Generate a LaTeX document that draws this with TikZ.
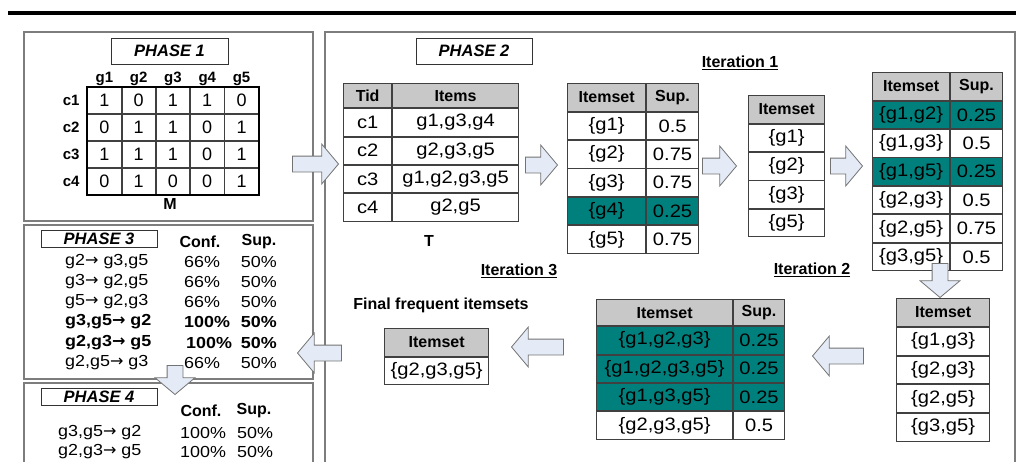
\documentclass[tikz,border=0pt]{standalone}
\usepackage{fontspec}
\setmainfont{Liberation Sans}
\newfontfamily\cellfont[FakeStretch=1.12]{Liberation Sans}
\newfontfamily\arrfont{DejaVu Sans}
\newcommand{\imp}{{\arrfont →}}
\usetikzlibrary{positioning,matrix,shapes.arrows}

\definecolor{hit}{RGB}{0,128,125}
\definecolor{hdr}{RGB}{200,200,200}
\definecolor{arrfill}{RGB}{228,234,246}
\definecolor{arrline}{RGB}{115,115,115}
\definecolor{panelgray}{RGB}{125,125,125}

\tikzset{
  panel/.style={draw=panelgray, line width=1.3pt},
  title/.style={draw=black!80, line width=0.8pt, inner sep=0pt, font=\fontsize{16.5}{18}\selectfont\bfseries\itshape},
  cell/.style={draw=black!75, line width=0.9pt, minimum height=27.5pt, inner sep=1pt, outer sep=0pt, anchor=center, font=\cellfont\fontsize{18}{20}\selectfont},
  hd/.style={fill=hdr, font=\fontsize{16}{18}\selectfont\bfseries},
  tbl/.style={matrix of nodes, inner sep=0pt, row sep=0pt, column sep=0pt, nodes={cell}, row 1/.style={nodes={hd}}},
  blk/.style={single arrow, draw=arrline, fill=arrfill, line width=0.8pt, inner sep=0pt, inner ysep=7.5pt, single arrow head extend=12pt, single arrow tip angle=100, anchor=tip},
  lbl/.style={inner sep=1pt, font=\fontsize{16}{18}\selectfont\bfseries},
  colhd/.style={inner sep=1pt, font=\fontsize{15}{17}\selectfont\bfseries},
  rule/.style={inner sep=0pt, font=\cellfont\fontsize{16}{18}\selectfont},
  brule/.style={inner sep=0pt, font=\cellfont\fontsize{16}{18}\selectfont\bfseries},
}

\begin{document}
\begin{tikzpicture}[x=1pt, y=-1pt]
\path[use as bounding box, fill=white] (0,0) rectangle (1016,461);
\clip (0,0) rectangle (1016,461);

\draw[line width=3.6pt] (8,13) -- (1016,13);

% panels
\draw[panel] (24,32) rectangle (313,221);
\draw[panel] (325,32) rectangle (1015,470);
\draw[panel] (24,225) rectangle (313,379);
\draw[panel] (24,383) rectangle (313,470);

% phase 1
\node[title, minimum width=117pt, minimum height=26pt] (h1) at (169.5,51) {PHASE 1};
\matrix[matrix of nodes, inner sep=0pt, anchor=north west,
  nodes={cell, minimum width=33.4pt, minimum height=26pt, font=\fontsize{18}{20}\selectfont}] (tM) at (87,87) {
1 & 0 & 1 & 1 & 0 \\
0 & 1 & 1 & 0 & 1 \\
1 & 1 & 1 & 0 & 1 \\
0 & 1 & 0 & 0 & 1 \\
};
\draw[line width=2pt] (tM.north west) rectangle (tM.south east);
\node[colhd, above=1pt of tM-1-1] (g1) {g1};
\node[colhd, above=1pt of tM-1-2] (g2) {g2};
\node[colhd, above=1pt of tM-1-3] (g3) {g3};
\node[colhd, above=1pt of tM-1-4] (g4) {g4};
\node[colhd, above=1pt of tM-1-5] (g5) {g5};
\node[colhd, left=7pt of tM-1-1] (c1) {c1};
\node[colhd, left=7pt of tM-2-1] (c2) {c2};
\node[colhd, left=7pt of tM-3-1] (c3) {c3};
\node[colhd, left=7pt of tM-4-1] (c4) {c4};
\node[lbl] (mlab) at (170,204) {M};

% phase 2
\node[title, minimum width=116pt, minimum height=26pt] (h2) at (474,51) {PHASE 2};
\matrix[tbl, anchor=north west, row 1/.style={nodes={hd, minimum height=24pt}},
  column 1/.style={nodes={minimum width=48pt}}, column 2/.style={nodes={minimum width=126pt}}] (tT) at (343,83) {
Tid & Items \\
c1 & g1,g3,g4 \\
c2 & g2,g3,g5 \\
c3 & g1,g2,g3,g5 \\
c4 & g2,g5 \\
};
\node[lbl] (tlab) at (429,241) {T};

\matrix[tbl, anchor=north west, row 5/.style={nodes={fill=hit}},
  column 1/.style={nodes={minimum width=78pt}}, column 2/.style={nodes={minimum width=52pt}}] (tC1) at (567,83) {
Itemset & Sup. \\
\{g1\} & 0.5 \\
\{g2\} & 0.75 \\
\{g3\} & 0.75 \\
\{g4\} & 0.25 \\
\{g5\} & 0.75 \\
};

\node[lbl] (it1) at (740,63) {\underline{Iteration 1}};
\matrix[tbl, anchor=north west, nodes={minimum width=76pt}] (tL1) at (748,95) {
Itemset \\
\{g1\} \\
\{g2\} \\
\{g3\} \\
\{g5\} \\
};

\matrix[tbl, anchor=north west, row 2/.style={nodes={fill=hit}}, row 4/.style={nodes={fill=hit}},
  column 1/.style={nodes={minimum width=77pt}}, column 2/.style={nodes={minimum width=52pt}}] (tC2) at (872,72) {
Itemset & Sup. \\
\{g1,g2\} & 0.25 \\
\{g1,g3\} & 0.5 \\
\{g1,g5\} & 0.25 \\
\{g2,g3\} & 0.5 \\
\{g2,g5\} & 0.75 \\
\{g3,g5\} & 0.5 \\
};

\node[lbl] (it2) at (812,270) {\underline{Iteration 2}};
\matrix[tbl, anchor=north west, nodes={minimum width=93pt, minimum height=27.75pt}] (tL2) at (896,298) {
Itemset \\
\{g1,g3\} \\
\{g2,g3\} \\
\{g2,g5\} \\
\{g3,g5\} \\
};

\matrix[tbl, anchor=north west, row 1/.style={nodes={hd, minimum height=26pt}},
  row 2/.style={nodes={fill=hit}}, row 3/.style={nodes={fill=hit}}, row 4/.style={nodes={fill=hit}},
  column 1/.style={nodes={minimum width=136pt}}, column 2/.style={nodes={minimum width=51pt}}] (tC3) at (596,299) {
Itemset & Sup. \\
\{g1,g2,g3\} & 0.25 \\
\{g1,g2,g3,g5\} & 0.25 \\
\{g1,g3,g5\} & 0.25 \\
\{g2,g3,g5\} & 0.5 \\
};

\node[lbl] (it3) at (519,271) {\underline{Iteration 3}};
\node[lbl] (fin) at (441,305) {Final frequent itemsets};
\matrix[tbl, anchor=north west, nodes={minimum width=104pt}] (tF) at (384,328) {
Itemset \\
\{g2,g3,g5\} \\
};

% phase 3
\node[title, minimum width=116pt, minimum height=17pt] (h3) at (99,238.5) {PHASE 3};
\node[lbl] (cf3) at (200,242) {Conf.};
\node[lbl] (sp3) at (259,242) {Sup.};
\node[rule, anchor=west] (r31) at (65,262) {g2\imp\ g3,g5};
\node[rule, anchor=west] (r32) at (65,282) {g3\imp\ g2,g5};
\node[rule, anchor=west] (r33) at (65,302) {g5\imp\ g2,g3};
\node[brule, anchor=west] (r34) at (65,322) {g3,g5\imp\ g2};
\node[brule, anchor=west] (r35) at (65,343) {g2,g3\imp\ g5};
\node[rule, anchor=west] (r36) at (65,363) {g2,g5\imp\ g3};
\node[rule, anchor=west] (c31) at (184,262) {66\%};
\node[rule, anchor=west] (c32) at (184,282) {66\%};
\node[rule, anchor=west] (c33) at (184,302) {66\%};
\node[brule, anchor=west] (c34) at (184,322) {100\%};
\node[brule, anchor=west] (c35) at (186,343) {100\%};
\node[rule, anchor=west] (c36) at (184,363) {66\%};
\node[rule, anchor=east] (s31) at (277,262) {50\%};
\node[rule, anchor=east] (s32) at (277,282) {50\%};
\node[rule, anchor=east] (s33) at (277,302) {50\%};
\node[brule, anchor=east] (s34) at (277,322) {50\%};
\node[brule, anchor=east] (s35) at (277,343) {50\%};
\node[rule, anchor=east] (s36) at (277,363) {50\%};

% phase 4
\node[title, minimum width=116pt, minimum height=17pt] (h4) at (99,396.5) {PHASE 4};
\node[lbl] (cf4) at (201,411) {Conf.};
\node[lbl] (sp4) at (254,411) {Sup.};
\node[rule, anchor=west] (r41) at (58,433) {g3,g5\imp\ g2};
\node[rule, anchor=west] (r42) at (58,452) {g2,g3\imp\ g5};
\node[rule, anchor=west] (c41) at (180,433) {100\%};
\node[rule, anchor=west] (c42) at (180,452) {100\%};
\node[rule, anchor=west] (s41) at (237,433) {50\%};
\node[rule, anchor=west] (s42) at (237,452) {50\%};

% block arrows
\node[blk, minimum height=46pt] (a1) at (339,164) {};
\node[blk, minimum height=32pt] (a2) at (558,165) {};
\node[blk, minimum height=34pt] (a3) at (737,166) {};
\node[blk, minimum height=32pt] (a4) at (863,166) {};
\node[blk, minimum height=34pt, rotate=-90] (a5) at (940,298) {};
\node[blk, minimum height=51pt, rotate=180] (a6) at (812,356) {};
\node[blk, minimum height=52pt, rotate=180] (a7) at (511,347) {};
\node[blk, minimum height=44pt, rotate=180] (a8) at (297,353) {};
\node[blk, minimum height=29pt, rotate=-90] (a9) at (175,395) {};
\end{tikzpicture}
\end{document}
